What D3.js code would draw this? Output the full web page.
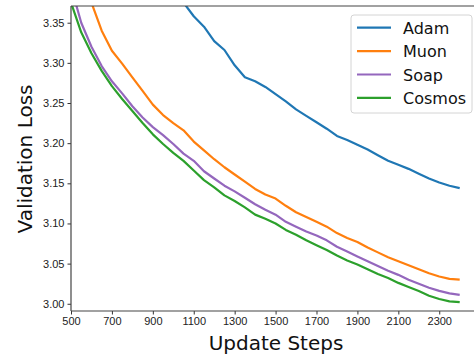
<!DOCTYPE html>
<html>
<head>
<meta charset="utf-8">
<script src="https://cdn.jsdelivr.net/npm/d3@7"></script>
<style>
  body { margin: 0; background: #fff; }
  svg { display: block; font-family: "DejaVu Sans", sans-serif; }
</style>
</head>
<body>
<div id="chart"></div>
<script>
// Validation loss per optimizer
const steps = [500, 550, 600, 650, 700, 750, 800, 850, 900, 950, 1000, 1050, 1100, 1150, 1200,
  1250, 1300, 1350, 1400, 1450, 1500, 1550, 1600, 1650, 1700, 1750, 1800, 1850, 1900, 1950,
  2000, 2050, 2100, 2150, 2200, 2250, 2300, 2350, 2400];

const adam = [null, null, null, null, null, null, null, null, null, null, 3.392, 3.375, 3.358, 3.345, 3.327,
  3.316, 3.297, 3.282, 3.277, 3.270, 3.261, 3.252, 3.242, 3.234, 3.226, 3.218, 3.209, 3.204, 3.198, 3.192,
  3.185, 3.178, 3.173, 3.168, 3.162, 3.156, 3.151, 3.147, 3.144];
const muon = [null, 3.410, 3.375, 3.340, 3.315, 3.299, 3.282, 3.265, 3.248, 3.235, 3.225, 3.216, 3.202, 3.191, 3.180,
  3.170, 3.161, 3.152, 3.143, 3.136, 3.131, 3.122, 3.114, 3.108, 3.102, 3.096, 3.088, 3.082, 3.077, 3.070,
  3.064, 3.058, 3.053, 3.048, 3.043, 3.038, 3.034, 3.031, 3.030];
const soap = [3.395, 3.350, 3.320, 3.296, 3.277, 3.262, 3.246, 3.232, 3.220, 3.210, 3.199, 3.187, 3.178, 3.165, 3.156,
  3.147, 3.140, 3.132, 3.124, 3.117, 3.111, 3.102, 3.096, 3.090, 3.085, 3.079, 3.071, 3.065, 3.059, 3.053,
  3.047, 3.041, 3.036, 3.030, 3.025, 3.020, 3.016, 3.013, 3.011];
const cosmos = [3.375, 3.338, 3.312, 3.290, 3.271, 3.255, 3.240, 3.225, 3.211, 3.199, 3.188, 3.178, 3.166, 3.154, 3.145,
  3.135, 3.128, 3.120, 3.111, 3.106, 3.100, 3.092, 3.086, 3.079, 3.073, 3.067, 3.060, 3.054, 3.049, 3.043,
  3.037, 3.032, 3.026, 3.021, 3.016, 3.010, 3.006, 3.003, 3.002];

const seriesNames = ['Adam', 'Muon', 'Soap', 'Cosmos'];
const seriesValues = [adam, muon, soap, cosmos];
const colors = ['#1f77b4', '#ff7f0e', '#9467bd', '#2ca02c'];

const xTicks = [500, 700, 900, 1100, 1300, 1500, 1700, 1900, 2100, 2300];
const yTicks = [3.00, 3.05, 3.10, 3.15, 3.20, 3.25, 3.30, 3.35];

const width = 474, height = 358;
const margin = {top: 6, right: 1, bottom: 47, left: 71};

const svg = d3.select('#chart')
    .append('svg')
    .attr('width', width)
    .attr('height', height);

const x = d3.scaleLinear()
    .domain([500, 2465])
    .range([margin.left, width - margin.right]);

const y = d3.scaleLinear()
    .domain([2.991, 3.3708])
    .range([height - margin.bottom, margin.top]);

svg.append('clipPath')
    .attr('id', 'plot-clip')
    .append('rect')
    .attr('x', margin.left)
    .attr('y', margin.top)
    .attr('width', width - margin.left - margin.right)
    .attr('height', height - margin.top - margin.bottom);

// Lines
const line = d3.line()
    .defined(d => d[1] !== null)
    .x(d => x(d[0]))
    .y(d => y(d[1]));

const plot = svg.append('g').attr('clip-path', 'url(#plot-clip)');
seriesValues.forEach((vals, i) => {
    plot.append('path')
        .datum(steps.map((s, j) => [s, vals[j]]))
        .attr('fill', 'none')
        .attr('stroke', colors[i])
        .attr('stroke-width', 2.2)
        .attr('stroke-linejoin', 'round')
        .attr('d', line);
});

// Axes
const xAxis = svg.append('g')
    .attr('transform', `translate(0,${height - margin.bottom})`)
    .call(d3.axisBottom(x).tickValues(xTicks).tickSize(3.5).tickPadding(3).tickFormat(d3.format('d')));

const yAxis = svg.append('g')
    .attr('transform', `translate(${margin.left},0)`)
    .call(d3.axisLeft(y).tickValues(yTicks).tickSize(3.5).tickPadding(3).tickFormat(d3.format('.2f')));

[xAxis, yAxis].forEach(ax => {
    ax.select('.domain').remove();
    ax.selectAll('.tick line').attr('stroke', '#333').attr('stroke-width', 1);
    ax.selectAll('.tick text').attr('fill', '#222').style('font-size', '11px');
});

// Spines
svg.append('line')
    .attr('x1', margin.left).attr('x2', margin.left)
    .attr('y1', margin.top).attr('y2', height - margin.bottom)
    .attr('stroke', '#444').attr('stroke-width', 1.2);
svg.append('line')
    .attr('x1', margin.left).attr('x2', width)
    .attr('y1', height - margin.bottom).attr('y2', height - margin.bottom)
    .attr('stroke', '#444').attr('stroke-width', 1.2);
svg.append('line')
    .attr('x1', margin.left).attr('x2', width)
    .attr('y1', margin.top).attr('y2', margin.top)
    .attr('stroke', '#444').attr('stroke-width', 1.2);

// Axis labels
svg.append('text')
    .attr('x', 276)
    .attr('y', 350)
    .attr('text-anchor', 'middle')
    .style('font-size', '20px')
    .attr('fill', '#111')
    .text('Update Steps');

svg.append('text')
    .attr('transform', 'translate(32,159) rotate(-90)')
    .attr('text-anchor', 'middle')
    .style('font-size', '20px')
    .attr('fill', '#111')
    .text('Validation Loss');

// Legend
const legend = svg.append('g').attr('transform', 'translate(351,15)');
legend.append('rect')
    .attr('width', 121)
    .attr('height', 98)
    .attr('rx', 3)
    .attr('fill', '#fff')
    .attr('fill-opacity', 0.85)
    .attr('stroke', '#d4d4d4');

seriesNames.forEach((name, i) => {
    const row = legend.append('g').attr('transform', `translate(0,${12.7 + i * 23.4})`);
    row.append('line')
        .attr('x1', 6).attr('x2', 40)
        .attr('stroke', colors[i])
        .attr('stroke-width', 2.2);
    row.append('text')
        .attr('x', 52)
        .attr('y', 6)
        .style('font-size', '16px')
        .attr('fill', '#111')
        .text(name);
});
</script>
</body>
</html>
